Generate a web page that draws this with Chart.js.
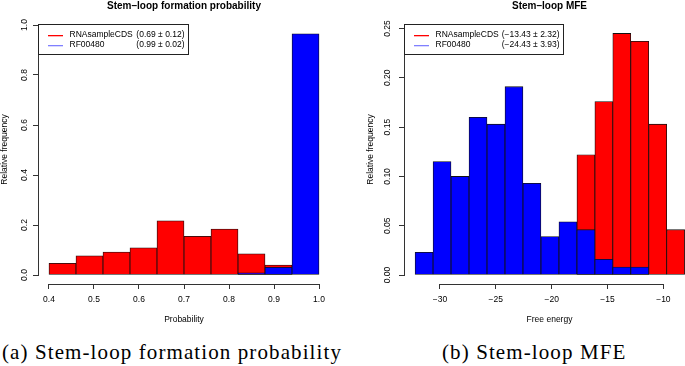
<!DOCTYPE html>
<html>
<head>
<meta charset="utf-8">
<script src="https://cdn.jsdelivr.net/npm/chart.js@4.4.1/dist/chart.umd.min.js"></script>
<style>
  html, body { margin: 0; padding: 0; background: #fff; }
  body { position: relative; width: 685px; height: 366px; overflow: hidden; }
  canvas { position: absolute; top: 0; }
  #prob-chart { left: 0; }
  #mfe-chart { left: 366px; }
  .caption {
    position: absolute; top: 342px;
    font-family: 'Liberation Serif', serif; font-size: 21px; line-height: 21px;
    letter-spacing: 1.1px; color: #000; white-space: nowrap;
  }
</style>
</head>
<body>
<canvas id="prob-chart" width="342" height="330"></canvas>
<canvas id="mfe-chart" width="329" height="330"></canvas>
<div class="caption" style="left:2px">(a) Stem-loop formation probability</div>
<div class="caption" style="left:442px">(b) Stem-loop MFE</div>
<script>
const seriesNames = ['RNAsampleCDS', 'RF00480']

// formation probability histogram
const probBreaks = [0.40, 0.46, 0.52, 0.58, 0.64, 0.70, 0.76, 0.82, 0.88, 0.94, 1.00]
const probSample = [0.047, 0.077, 0.092, 0.109, 0.217, 0.155, 0.184, 0.085, 0.040, 0]
const probRfam = [0, 0, 0, 0, 0, 0, 0, 0.009, 0.031, 0.965]
const probStats = ['(0.69 \u00b1 0.12)', '(0.99 \u00b1 0.02)']

// MFE histogram
const mfeBreaks = [-32.23, -30.62, -29.01, -27.40, -25.79, -24.18, -22.57, -20.96,
  -19.35, -17.74, -16.13, -14.53, -12.92, -11.31, -9.70, -8.10]
const mfeSample = [0, 0, 0, 0, 0, 0, 0, 0, 0, 0.122, 0.176, 0.245, 0.237, 0.153, 0.046]
const mfeRfam = [0.023, 0.115, 0.100, 0.160, 0.153, 0.191, 0.093, 0.039, 0.054, 0.046,
  0.016, 0.008, 0.008, 0, 0]
const mfeStats = ['(\u221213.43 \u00b1 2.32)', '(\u221224.43 \u00b1 3.93)']

Chart.defaults.font.family = "'Liberation Sans', Arial, sans-serif"
Chart.defaults.font.size = 8.5
Chart.defaults.color = '#000'

const FONT = "8.5px 'Liberation Sans', Arial, sans-serif"
const LEGEND_LINES = ['rgb(255, 0, 0)', 'rgb(128, 128, 255)']

function toPoints(breaks, values) {
  return values.map((y, i) => ({ x: (breaks[i] + breaks[i + 1]) / 2, y }))
}

const minus = s => String(s).replace('-', '\u2212')

// R style axes: line only from first to last tick
const axisLines = {
  id: 'axisLines',
  afterDraw(chart) {
    const { ctx, chartArea } = chart
    const { x, y } = chart.scales
    ctx.save()
    ctx.strokeStyle = '#333'
    ctx.lineWidth = 1
    ctx.beginPath()
    ctx.moveTo(Math.round(x.getPixelForTick(0)), chartArea.bottom + 0.5)
    ctx.lineTo(Math.round(x.getPixelForTick(x.ticks.length - 1)) + 1, chartArea.bottom + 0.5)
    ctx.moveTo(chartArea.left + 0.5, Math.round(y.getPixelForTick(0)) + 1)
    ctx.lineTo(chartArea.left + 0.5, Math.round(y.getPixelForTick(y.ticks.length - 1)))
    ctx.stroke()
    ctx.restore()
  }
}

const boxLegend = {
  id: 'boxLegend',
  afterDraw(chart, args, opts) {
    const { ctx, chartArea } = chart
    const sets = chart.data.datasets
    const stats = opts.stats
    ctx.save()
    ctx.font = FONT
    const gap = ctx.measureText(' ').width
    const widest = Math.max(...sets.map((ds, i) =>
      ctx.measureText(ds.label).width + gap + ctx.measureText(stats[i]).width))
    const left = chartArea.left + 0.5
    const top = chartArea.top + 9.5
    const w = Math.round(31 + widest + 5)
    ctx.strokeStyle = '#222'
    ctx.lineWidth = 1
    ctx.strokeRect(left, top, w, 30)
    ctx.textBaseline = 'middle'
    sets.forEach((ds, i) => {
      const rowY = top + 10 + i * 10
      ctx.fillStyle = LEGEND_LINES[i]
      ctx.fillRect(Math.round(left + 9), Math.round(rowY), 15, 1.3)
      ctx.fillStyle = '#000'
      ctx.textAlign = 'left'
      ctx.fillText(ds.label, left + 31, rowY)
      ctx.textAlign = 'right'
      ctx.fillText(stats[i], left + w - 4, rowY)
    })
    ctx.restore()
  }
}

function histogram(canvasId, cfg) {
  const barStyle = {
    borderColor: '#111',
    borderWidth: 0.8,
    borderSkipped: false,
    grouped: false,
    barPercentage: 1,
    categoryPercentage: 1
  }
  const tickGrid = { drawOnChartArea: false, drawTicks: true, tickLength: 5, color: '#333', offset: false }

  return new Chart(document.getElementById(canvasId), {
    type: 'bar',
    data: {
      datasets: [
        { label: seriesNames[0], data: toPoints(cfg.breaks, cfg.sample), backgroundColor: '#ff0000', order: 1, ...barStyle },
        { label: seriesNames[1], data: toPoints(cfg.breaks, cfg.rfam), backgroundColor: '#0000ff', order: 0, ...barStyle }
      ]
    },
    options: {
      responsive: false,
      animation: false,
      devicePixelRatio: 1,
      layout: { padding: { left: 0, top: 0, right: cfg.rightPad, bottom: 0 } },
      scales: {
        x: {
          type: 'linear',
          offset: false,
          min: cfg.xMin,
          max: cfg.xMax,
          afterFit: s => { s.height = 46 },
          border: { display: false },
          grid: tickGrid,
          ticks: {
            stepSize: cfg.xStep,
            includeBounds: false,
            autoSkip: false,
            maxRotation: 0,
            padding: 6,
            callback: cfg.xFormat
          },
          title: { display: true, text: cfg.xTitle, padding: { top: 0, bottom: 5 } }
        },
        y: {
          min: cfg.yMin,
          max: cfg.yMax,
          afterFit: s => { s.width = 38 },
          border: { display: false },
          grid: tickGrid,
          ticks: {
            stepSize: cfg.yStep,
            includeBounds: false,
            minRotation: 90,
            maxRotation: 90,
            crossAlign: 'center',
            padding: 2.6,
            callback: cfg.yFormat
          },
          title: { display: true, text: 'Relative frequency', padding: { top: 0, bottom: 0 } }
        }
      },
      plugins: {
        legend: { display: false },
        tooltip: { enabled: false },
        title: {
          display: true,
          text: cfg.title,
          fullSize: false,
          color: '#000',
          font: { size: 10, weight: 'bold' },
          padding: { top: 0, bottom: 3 }
        },
        boxLegend: { stats: cfg.stats }
      }
    },
    plugins: [axisLines, boxLegend]
  })
}

histogram('prob-chart', {
  breaks: probBreaks, sample: probSample, rfam: probRfam, stats: probStats,
  title: 'Stem\u2013loop formation probability', xTitle: 'Probability',
  xMin: 0.3756, xMax: 1.0244, xStep: 0.1, xFormat: v => Number(v).toFixed(1),
  yMin: -0.036, yMax: 1.04, yStep: 0.2, yFormat: v => Number(v).toFixed(1),
  rightPad: 12
})

histogram('mfe-chart', {
  breaks: mfeBreaks, sample: mfeSample, rfam: mfeRfam, stats: mfeStats,
  title: 'Stem\u2013loop MFE', xTitle: 'Free energy',
  xMin: -33.22, xMax: -7.17, xStep: 5, xFormat: v => minus(Math.round(v)),
  yMin: -0.0091, yMax: 0.2637, yStep: 0.05, yFormat: v => Number(v).toFixed(2),
  rightPad: 0
})
</script>
</body>
</html>
